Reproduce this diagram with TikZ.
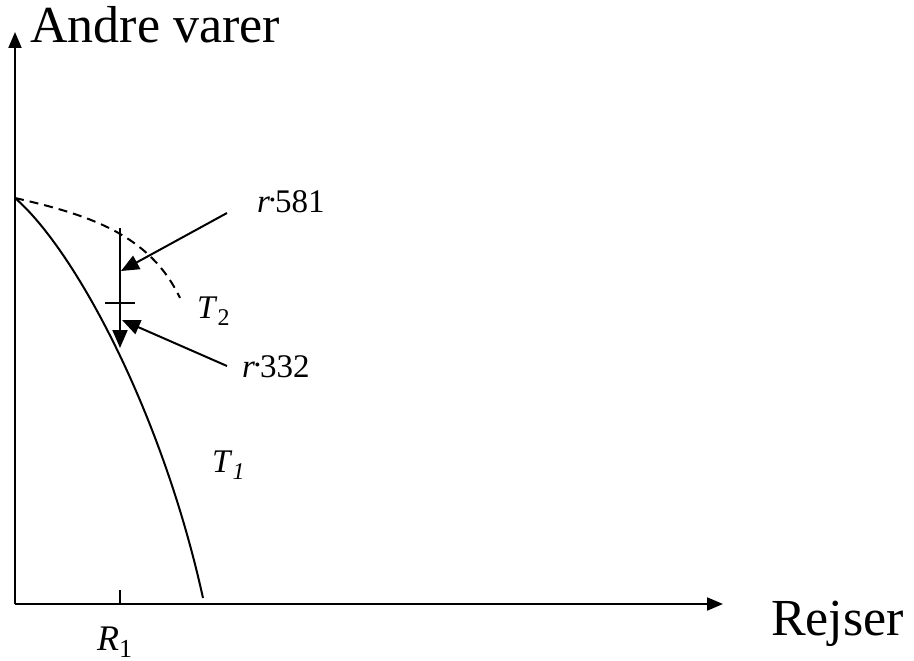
\documentclass[tikz,border=0pt]{standalone}
\usepackage{fontspec}
\setmainfont{Liberation Serif}
\usetikzlibrary{arrows.meta}
\begin{document}
\begin{tikzpicture}[x=1pt,y=-1pt,
  ln/.style={line width=2pt},
  tipa/.style={-{Triangle[length=16pt,width=13pt]}},
  tipb/.style={-{Triangle[length=18pt,width=15pt]}},
  big/.style={font=\fontsize{52}{60}\selectfont, inner sep=0pt, anchor=base west},
  lab/.style={font=\fontsize{33}{40}\selectfont, inner sep=0pt, anchor=base west}]
\useasboundingbox (0,0) rectangle (914,661);
% axes
\coordinate (O) at (15,604);
\coordinate (Ytop) at (15,32);
\coordinate (Xend) at (723,604);
\draw[ln,tipa] (O) -- (Ytop);
\draw[ln,tipa] (O) -- (Xend);
\node[big] (ylab) at (30,43) {Andre varer};
\node[big] (xlab) at (771,635) {Rejser};
% tick R1
\coordinate (Rt) at (120,590);
\coordinate (Rb) at (120,604);
\draw[ln] (Rb) -- (Rt);
\node[lab, font=\fontsize{36}{40}\selectfont] (R1) at (97,650) {\textit{R}\raisebox{-0.2em}{\fontsize{26}{30}\selectfont 1}};
% curves
\coordinate (S) at (15,198);
\coordinate (E1) at (203,598);
\coordinate (E2) at (180,298);
\draw[ln] (S) .. controls (75,250) and (162,412) .. (E1);
\draw[ln, dash pattern=on 9pt off 6pt] (S) .. controls (90,215) and (150,235) .. (E2);
% vertical arrow
\coordinate (Vt) at (120,228);
\coordinate (Vb) at (120,348);
\draw[ln,tipb] (Vt) -- (Vb);
\coordinate (Hl) at (105,303);
\coordinate (Hr) at (135,303);
\draw[ln] (Hl) -- (Hr);
% pointer arrows
\coordinate (A1s) at (227,213);
\coordinate (A1e) at (121,271);
\draw[ln,tipb] (A1s) -- (A1e);
\coordinate (A2s) at (227,366);
\coordinate (A2e) at (122,320);
\draw[ln,tipb] (A2s) -- (A2e);
% labels
\node[lab] (r581) at (257,212) {\textit{r}\kern-0.05em\raisebox{0.33em}{.}\kern-0.05em581};
\node[lab] (r332) at (242,377) {\textit{r}\kern-0.05em\raisebox{0.33em}{.}\kern-0.05em332};
\node[lab] (T2) at (197,318) {\textit{T}\raisebox{-0.22em}{\fontsize{24}{28}\selectfont 2}};
\node[lab] (T1) at (212,472) {\textit{T}\raisebox{-0.22em}{\fontsize{24}{28}\selectfont\itshape 1}};
\end{tikzpicture}
\end{document}
